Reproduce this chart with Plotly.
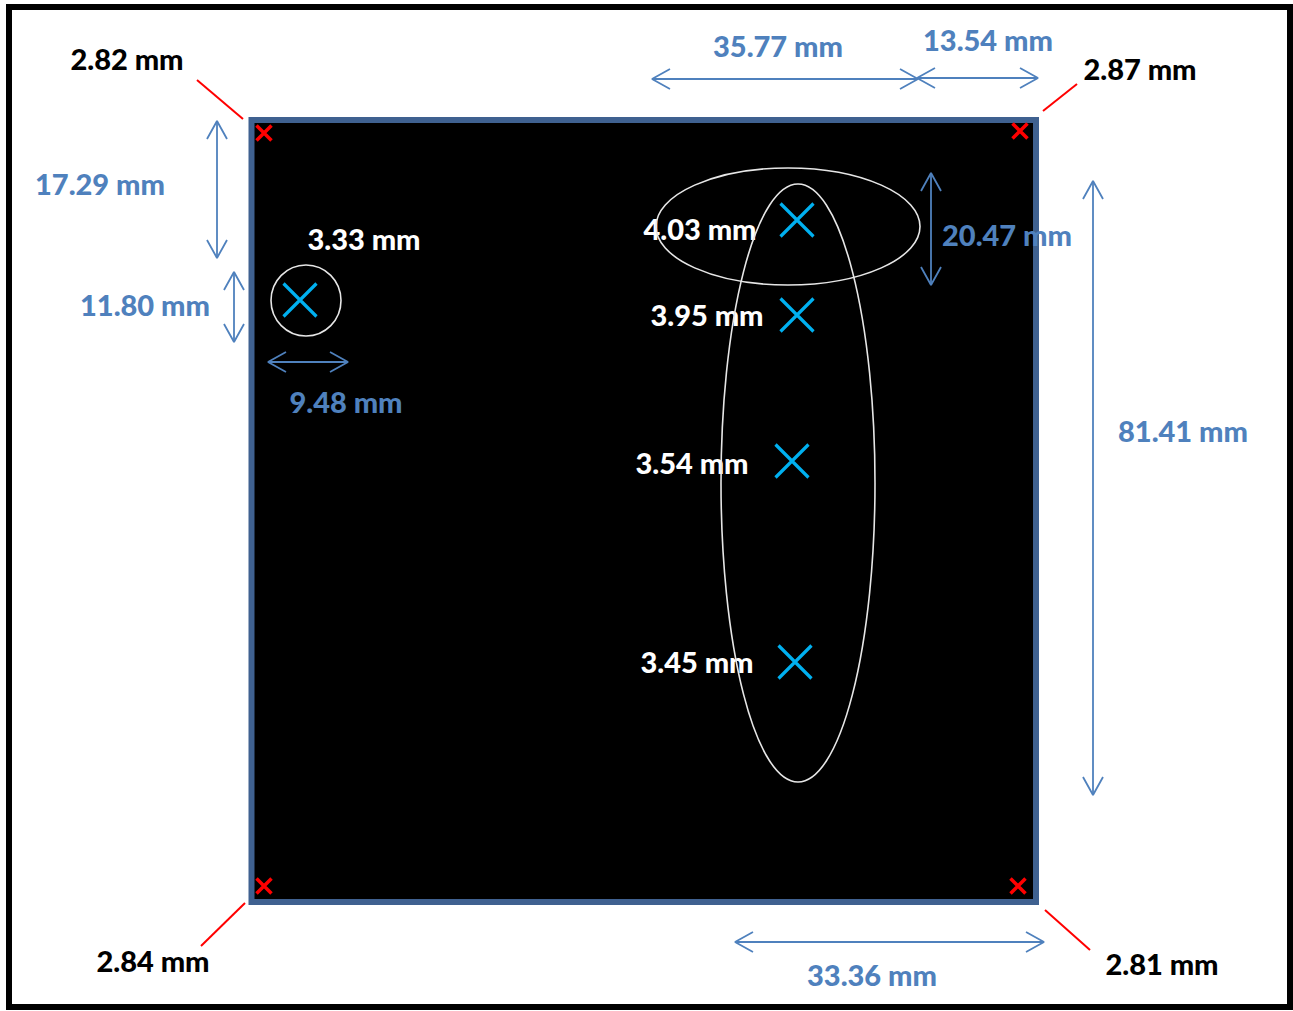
import plotly.graph_objects as go
import math

W, H = 1293, 1011

# ---- corner thickness readings (black labels) ----
corner_labels = ["2.82 mm", "2.87 mm", "2.84 mm", "2.81 mm"]
corner_label_x = [127, 1140, 153, 1162]
corner_label_y = [63, 73, 965, 968]
corner_mark_x = [264, 1020, 264, 1018]
corner_mark_y = [133, 131, 886, 886]
leader_x0 = [197, 1077, 201, 1090]
leader_y0 = [80, 84, 946, 950]
leader_x1 = [243, 1043, 245, 1045]
leader_y1 = [119, 111, 903, 910]

# ---- interior thickness readings (white labels, cyan marks) ----
point_labels = ["3.33 mm", "4.03 mm", "3.95 mm", "3.54 mm", "3.45 mm"]
point_label_x = [364, 700, 707, 692, 697]
point_label_y = [243, 233, 319, 467, 666]
point_mark_x = [300, 797, 797, 792, 795]
point_mark_y = [300, 220, 315, 461, 662]

# ---- dimension arrows (blue) ----
dim_labels = ["35.77 mm", "13.54 mm", "17.29 mm", "11.80 mm", "9.48 mm",
              "20.47 mm", "81.41 mm", "33.36 mm"]
dim_label_x = [778, 988, 100, 145, 346, 1007, 1183, 872]
dim_label_y = [50, 44, 188, 309, 406, 239, 435, 979]
arrow_x0 = [652, 917, 217, 234, 268, 931, 1093, 735]
arrow_y0 = [79, 78, 121, 272, 362, 173, 181, 942]
arrow_x1 = [918, 1038, 217, 234, 348, 931, 1093, 1044]
arrow_y1 = [79, 78, 258, 342, 362, 285, 795, 942]

# ---- highlighted regions (white outlines) ----
ell_x0 = [271, 656, 721]
ell_x1 = [341, 920, 875]
ell_y0 = [265, 168, 184]
ell_y1 = [336, 285, 782]

BLUE = "#4F81BD"
CYAN = "#00B0F0"
FONT = "Lato"
FS = 29

fig = go.Figure()

# outer frame and plate
fig.add_shape(type="rect", x0=9, y0=7, x1=1290, y1=1007,
              line=dict(color="black", width=6), fillcolor="white", layer="below")
fig.add_shape(type="rect", x0=251.5, y0=120, x1=1036, y1=902,
              line=dict(color="#3F6190", width=6), fillcolor="black", layer="below")

for a, b, c, d in zip(ell_x0, ell_y0, ell_x1, ell_y1):
    fig.add_shape(type="circle", x0=a, y0=b, x1=c, y1=d,
                  line=dict(color="#E6E6E6", width=1.6))

# leader lines
lx, ly = [], []
for a, b, c, d in zip(leader_x0, leader_y0, leader_x1, leader_y1):
    lx += [a, c, None]
    ly += [b, d, None]
fig.add_trace(go.Scatter(x=lx, y=ly, mode="lines",
                         line=dict(color="red", width=2), hoverinfo="skip"))

# double arrows with open heads
ax, ay = [], []
HL, HW = 18, 10
for a, b, c, d in zip(arrow_x0, arrow_y0, arrow_x1, arrow_y1):
    ax += [a, c, None]
    ay += [b, d, None]
    L = math.hypot(c - a, d - b)
    ux, uy = (c - a) / L, (d - b) / L
    px, py = -uy, ux
    for tx, ty, s in ((a, b, 1), (c, d, -1)):
        bx, by = tx + s * ux * HL, ty + s * uy * HL
        ax += [bx + px * HW, tx, bx - px * HW, None]
        ay += [by + py * HW, ty, by - py * HW, None]
fig.add_trace(go.Scatter(x=ax, y=ay, mode="lines",
                         line=dict(color=BLUE, width=1.8), hoverinfo="skip"))

# markers
fig.add_trace(go.Scatter(x=corner_mark_x, y=corner_mark_y, mode="markers",
                         marker=dict(symbol="x-thin", size=15,
                                     line=dict(color="red", width=3.5)),
                         hoverinfo="skip"))
fig.add_trace(go.Scatter(x=point_mark_x, y=point_mark_y, mode="markers",
                         marker=dict(symbol="x-thin", size=33,
                                     line=dict(color=CYAN, width=3.2)),
                         hoverinfo="skip"))

# labels
fig.add_trace(go.Scatter(x=corner_label_x, y=corner_label_y, mode="text",
                         text=corner_labels,
                         textfont=dict(family=FONT, size=FS, color="black", weight=900),
                         hoverinfo="skip"))
fig.add_trace(go.Scatter(x=point_label_x, y=point_label_y, mode="text",
                         text=point_labels,
                         textfont=dict(family=FONT, size=FS, color="white", weight=900),
                         hoverinfo="skip"))
fig.add_trace(go.Scatter(x=dim_label_x, y=dim_label_y, mode="text",
                         text=dim_labels,
                         textfont=dict(family=FONT, size=FS, color=BLUE, weight=900),
                         hoverinfo="skip"))

fig.update_layout(
    width=W, height=H, showlegend=False,
    margin=dict(l=0, r=0, t=0, b=0),
    paper_bgcolor="white", plot_bgcolor="white",
    xaxis=dict(range=[0, W], visible=False, fixedrange=True),
    yaxis=dict(range=[H, 0], visible=False, fixedrange=True),
)

fig.write_html("out.html", config={"displayModeBar": False},
               post_script="document.body.style.margin='0';document.body.style.overflow='hidden';")
